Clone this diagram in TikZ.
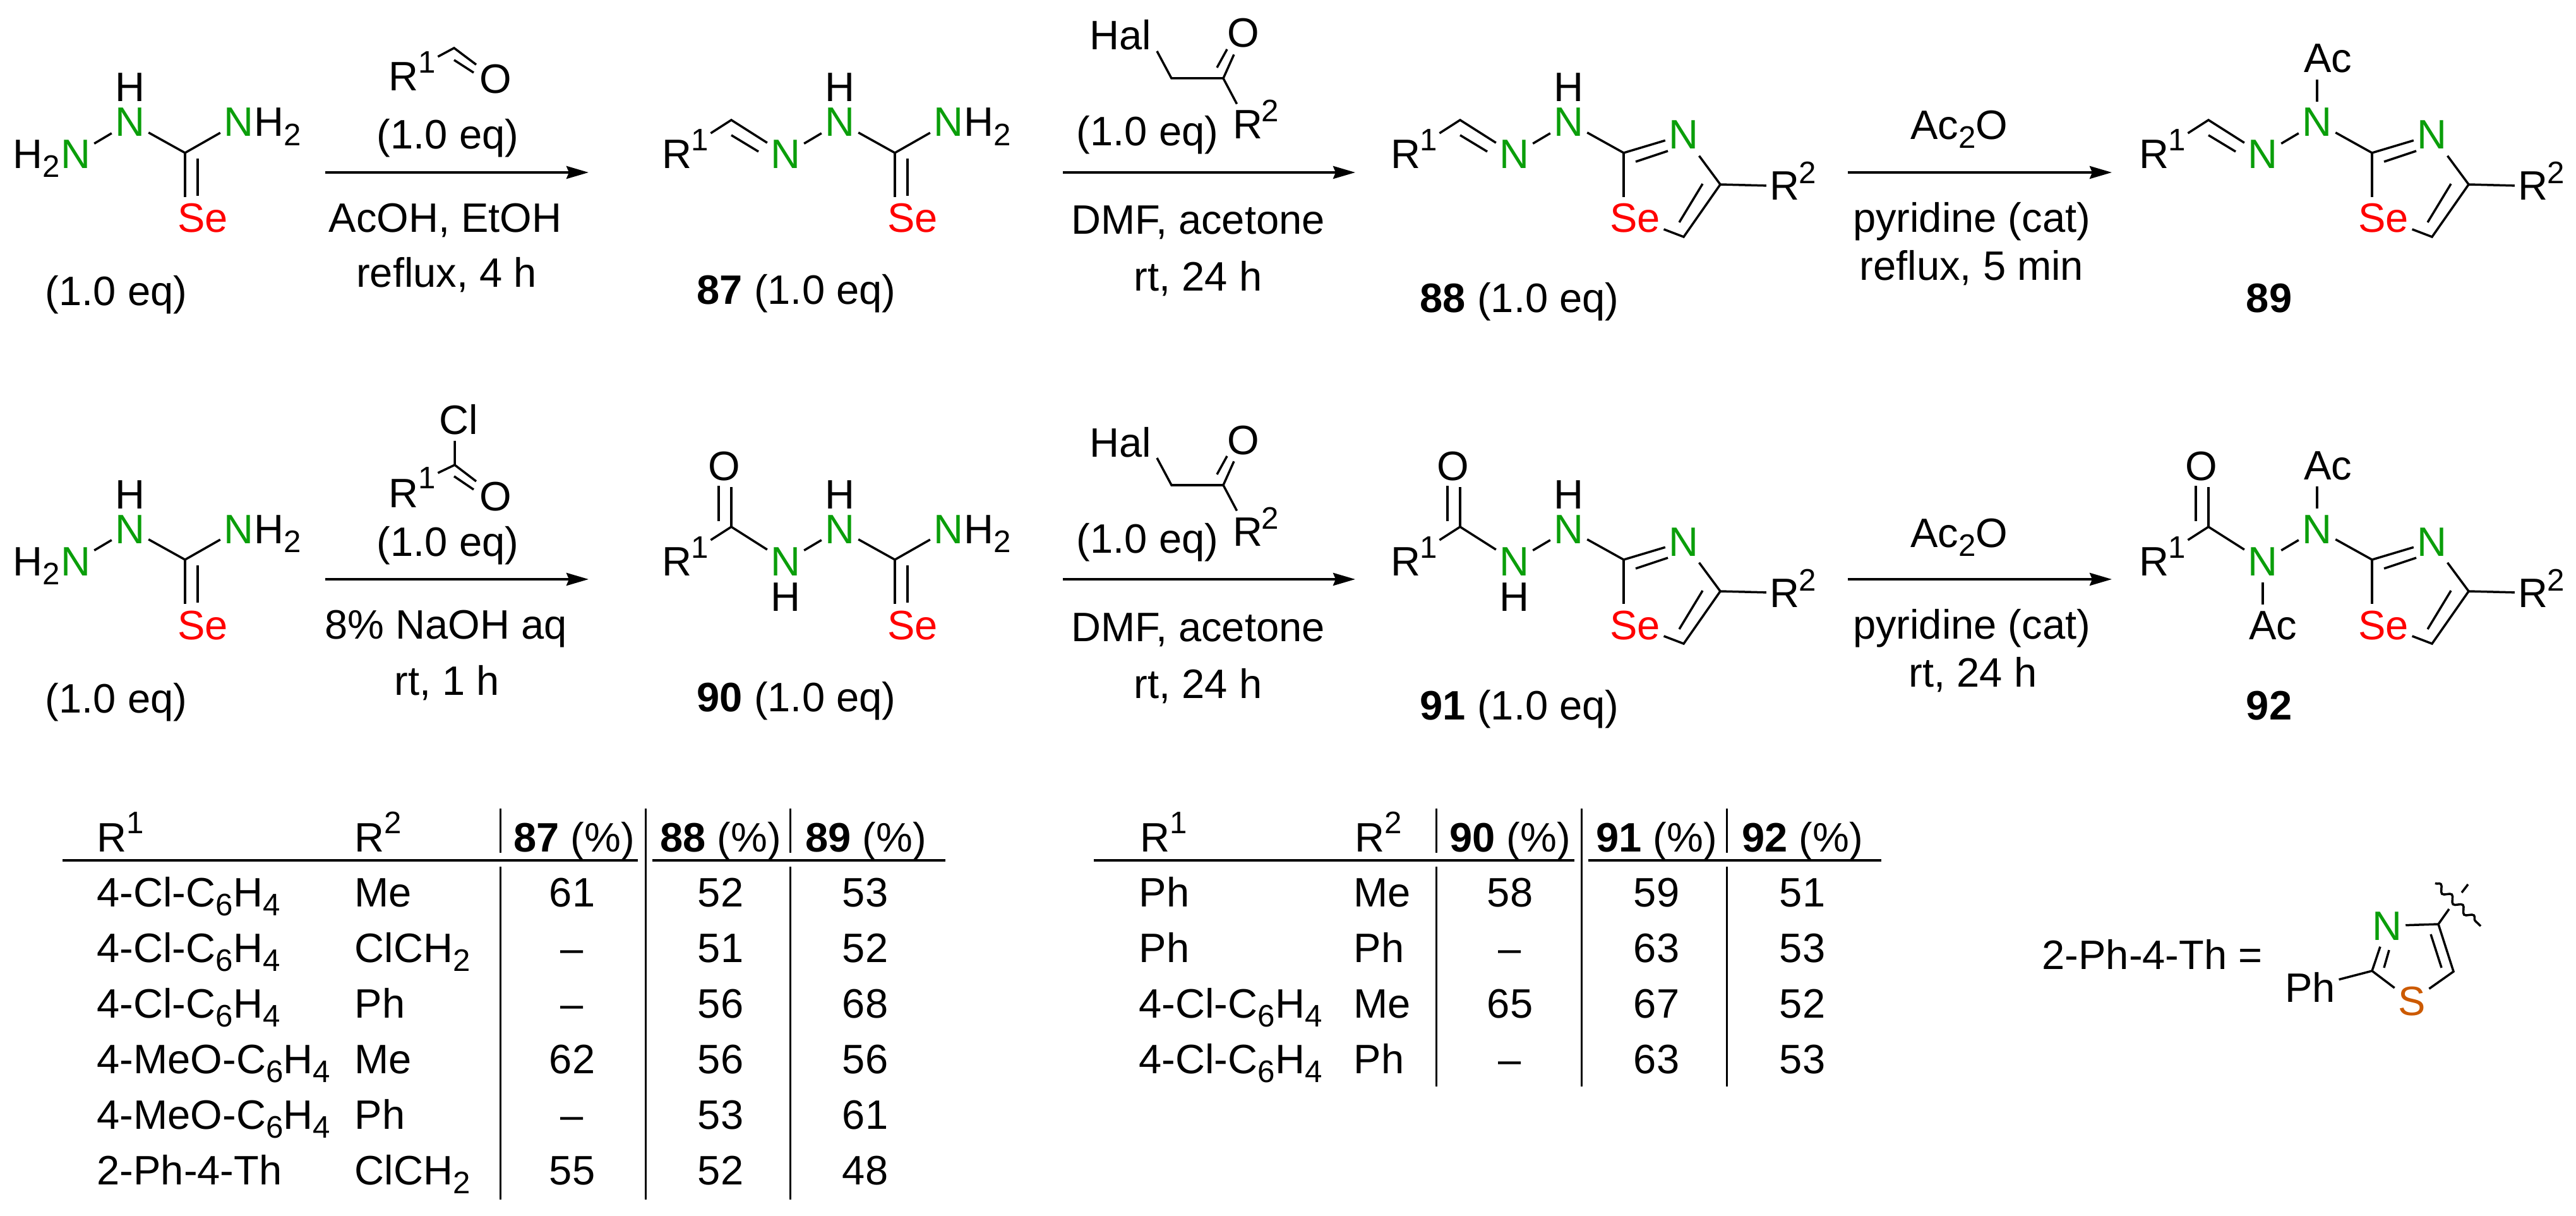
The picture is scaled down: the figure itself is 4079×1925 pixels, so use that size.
\documentclass[tikz,border=0pt]{standalone}
\usepackage{fontspec}
\setmainfont{Liberation Sans}
\usepackage{tikz}
\usetikzlibrary{arrows.meta,positioning,decorations.pathmorphing}
\definecolor{nitro}{RGB}{10,158,10}
\definecolor{selen}{RGB}{255,0,0}
\definecolor{sulf}{RGB}{204,90,0}
\newcommand{\bigfont}{\fontsize{18.5}{22}\selectfont}
\newcommand{\supr}[1]{\raisebox{0.28cm}{\fontsize{14}{14}\selectfont #1}}
\newcommand{\subr}[1]{\raisebox{-0.14cm}{\fontsize{14}{14}\selectfont #1}}
\newcommand{\clph}{4-Cl-C\subr{6}H\subr{4}}
\newcommand{\meoph}{4-MeO-C\subr{6}H\subr{4}}
\newcommand{\chcl}{ClCH\subr{2}}
\tikzstyle{arrow} = [line width=0.04cm,-{Stealth[length=0.35cm,width=0.2cm,inset=0.04cm]}]
\tikzstyle{bond} = [line width=0.035cm]
\tikzstyle{atom} = [font=\bigfont, anchor=base, inner xsep=0.05cm, inner ysep=0.1cm]
\tikzstyle{atomsup} = [font=\fontsize{14}{14}\selectfont, anchor=base, inner sep=0.03cm]
\tikzstyle{txt} = [font=\bigfont, anchor=base, inner sep=0pt]
\tikzstyle{cell} = [font=\bigfont, anchor=base west, inner sep=0pt]
\tikzstyle{tabrule} = [line width=0.04cm]
\tikzstyle{tabline} = [line width=0.03cm]
% left side of the products
\newcommand{\iminepart}{
  \node[txt] (r) at (1072,267) {R};
  \node[atomsup] (rs) at (1108,239) {1};
  \coordinate (v) at (1158,190);
  \coordinate (va) at (1158,214);
  \coordinate (vb) at (1201,240);
  \node[atom, text=nitro] (n) at (1244,267) {N};
  \node[atom, text=nitro] (nh) at (1330,216) {N};
  \draw[bond] (rs) -- (v) -- (n) -- (nh);
  \draw[bond] (va) -- (vb);
}
\newcommand{\acylpart}{
  \node[txt] (r) at (1072,267) {R};
  \node[atomsup] (rs) at (1108,239) {1};
  \coordinate (v) at (1158,190);
  \node[atom] (o) at (1147,116) {O};
  \coordinate (va) at (1138,125);
  \coordinate (vb) at (1138,181);
  \node[atom, text=nitro] (n) at (1244,267) {N};
  \node[atom, text=nitro] (nh) at (1330,216) {N};
  \draw[bond] (rs) -- (v) -- (n) -- (nh);
  \draw[bond] (v) -- (v |- o.south);
  \draw[bond] (va) -- (vb);
}
\newcommand{\hydrazine}{
  \node[atom, text=nitro] (n) at (1244,267) {N};
  \node[txt, anchor=base east] (hh) at (1220,267) {H\subr{2}};
  \node[atom, text=nitro] (nh) at (1330,216) {N};
  \draw[bond] (n) -- (nh);
}
% H or Ac on the nitrogens
\newcommand{\hup}{\node[txt] (hu) at (1330,161) {H};}
\newcommand{\hdown}{\node[txt] (hd) at (1244,323) {H};}
\newcommand{\acup}{
  \node[atom] (acu) at (1347,115) {Ac};
  \draw[bond] (nh) -- (nh |- acu.south);
}
\newcommand{\acdown}{
  \node[atom] (acd) at (1260,368) {Ac};
  \draw[bond] (n) -- (n |- acd.north);
}
% C(=Se)NH2
\newcommand{\selenopart}{
  \coordinate (c) at (1417,242);
  \node[atom, text=nitro] (nn) at (1502,216) {N};
  \node[txt, anchor=base west] (nnh) at (1526,216) {H\subr{2}};
  \node[atom, text=selen] (se) at (1445,368) {Se};
  \coordinate (ca) at (1437,251);
  \coordinate (cb) at (1437,310);
  \draw[bond] (nh) -- (c) -- (nn);
  \draw[bond] (c) -- (c |- se.north);
  \draw[bond] (ca) -- (cb);
}
% selenazole ring
\newcommand{\ringpart}{
  \coordinate (c) at (1417,242);
  \coordinate (cf) at (1570,292);
  \coordinate (cg) at (1512,375);
  \node[atom, text=nitro] (nr) at (1512,236) {N};
  \node[atom, text=selen] (se) at (1435,368) {Se};
  \node[atom] (rt) at (1672,317) {R};
  \node[atomsup] (rts) at (1708,291) {2};
  \coordinate (ca) at (1436,256);
  \coordinate (cb) at (1487,239);
  \coordinate (cc) at (1542,291);
  \coordinate (cd) at (1505,352);
  \draw[bond] (nh) -- (c) -- (nr) -- (cf) -- (cg) -- (se);
  \draw[bond] (c) -- (c |- se.north);
  \draw[bond] (rt) -- (cf);
  \draw[bond] (ca) -- (cb);
  \draw[bond] (cc) -- (cd);
}
% second step of both rows
\newcommand{\ketonestep}{
  \node[txt] (hal) at (1774,79) {Hal};
  \coordinate (halb) at (1832,81);
  \coordinate (ka) at (1855,124);
  \coordinate (kb) at (1937,124);
  \node[atom] (ko) at (1969,75) {O};
  \node[atom] (kr) at (1976,220) {R};
  \node[atomsup] (krs) at (2011,193) {2};
  \coordinate (kc) at (1927,107);
  \coordinate (kd) at (1943,78);
  \draw[bond] (halb) -- (ka) -- (kb) -- (ko);
  \draw[bond] (kb) -- (kr);
  \draw[bond] (kc) -- (kd);
  \node[txt] (keq) at (1817,231) {(1.0 eq)};
  \coordinate (as) at (1683,273);
  \coordinate (ae) at (2146,273);
  \draw[arrow] (as) -- (ae);
  \node[txt] (kdmf) at (1897,371) {DMF, acetone};
  \node[txt] (krt) at (1897,461) {rt, 24 h};
}
\begin{document}
\begin{tikzpicture}[x=0.01cm,y=-0.01cm]
\useasboundingbox (0,0) rectangle (4079,1925);
% First row
\begin{scope}[shift={(-1124,0)}, name prefix=sa-]
\hydrazine \hup \selenopart
\end{scope}
\node[txt] (eqa) at (184,484) {(1.0 eq)};
\node[txt] (ra) at (639,144) {R};
\node[atomsup] (rsa) at (676,116) {1};
\coordinate (alv) at (719,76);
\node[atom] (oa) at (785,148) {O};
\coordinate (ala) at (719,95);
\coordinate (alb) at (750,115);
\draw[bond] (rsa) -- (alv) -- (oa);
\draw[bond] (ala) -- (alb);
\node[txt] (eqb) at (709,236) {(1.0 eq)};
\coordinate (ars) at (515,273);
\coordinate (are) at (932,273);
\draw[arrow] (ars) -- (are);
\node[txt] (acoh) at (705,368) {AcOH, EtOH};
\node[txt] (refa) at (707,455) {reflux, 4 h};

\begin{scope}[name prefix=m87-]
\iminepart \hup \selenopart
\end{scope}
\node[txt, anchor=base west] (l87) at (1103,482) {\textbf{87} (1.0 eq)};

\begin{scope}[name prefix=ka-]
\ketonestep
\end{scope}

\begin{scope}[shift={(1154,0)}, name prefix=m88-]
\iminepart \hup \ringpart
\end{scope}
\node[txt, anchor=base west] (l88) at (2248,495) {\textbf{88} (1.0 eq)};

\node[txt] (aco) at (3102,221) {Ac\subr{2}O};
\coordinate (brs) at (2926,273);
\coordinate (bre) at (3344,273);
\draw[arrow] (brs) -- (bre);
\node[txt] (pyra) at (3122,368) {pyridine (cat)};
\node[txt] (refb) at (3122,444) {reflux, 5 min};

\begin{scope}[shift={(2339,0)}, name prefix=m89-]
\iminepart \acup \ringpart
\end{scope}
\node[txt] (l89) at (3593,495) {\textbf{89}};

% Second row
\begin{scope}[shift={(-1124,644)}, name prefix=sb-]
\hydrazine \hup \selenopart
\end{scope}
\node[txt] (eqc) at (184,1128) {(1.0 eq)};
\node[txt] (cl) at (726,687) {Cl};
\coordinate (clv) at (720,736);
\node[txt] (rb) at (639,803) {R};
\node[atomsup] (rsb) at (676,774) {1};
\node[atom] (ob) at (785,808) {O};
\coordinate (cla) at (719,754);
\coordinate (clb) at (750,775);
\coordinate (clt) at (720,698);
\draw[bond] (clt) -- (clv) -- (ob);
\draw[bond] (rsb) -- (clv);
\draw[bond] (cla) -- (clb);
\node[txt] (eqd) at (709,880) {(1.0 eq)};
\coordinate (crs) at (515,917);
\coordinate (cre) at (932,917);
\draw[arrow] (crs) -- (cre);
\node[txt] (naoh) at (706,1011) {8\% NaOH aq};
\node[txt] (rta) at (708,1100) {rt, 1 h};

\begin{scope}[shift={(0,644)}, name prefix=m90-]
\acylpart \hup \hdown \selenopart
\end{scope}
\node[txt, anchor=base west] (l90) at (1103,1126) {\textbf{90} (1.0 eq)};

\begin{scope}[shift={(0,644)}, name prefix=kb-]
\ketonestep
\end{scope}

\begin{scope}[shift={(1154,644)}, name prefix=m91-]
\acylpart \hup \hdown \ringpart
\end{scope}
\node[txt, anchor=base west] (l91) at (2248,1139) {\textbf{91} (1.0 eq)};

\node[txt] (acob) at (3102,866) {Ac\subr{2}O};
\coordinate (drs) at (2926,917);
\coordinate (dre) at (3344,917);
\draw[arrow] (drs) -- (dre);
\node[txt] (pyrb) at (3122,1011) {pyridine (cat)};
\node[txt] (rtb) at (3124,1087) {rt, 24 h};

\begin{scope}[shift={(2339,644)}, name prefix=m92-]
\acylpart \acup \acdown \ringpart
\end{scope}
\node[txt] (l92) at (3593,1139) {\textbf{92}};

% Left table
\node[cell] (ta-r) at (153,1348) {R\supr{1}};
\node[cell] (ta-s) at (561,1348) {R\supr{2}};
\node[txt] (ta-c) at (909,1348) {\textbf{87} (\%)};
\node[txt] (ta-d) at (1141,1348) {\textbf{88} (\%)};
\node[txt] (ta-e) at (1371,1348) {\textbf{89} (\%)};
\foreach \y/\a/\b/\c/\d/\e in {1435/\clph/Me/61/52/53, 1523/\clph/\chcl/–/51/52, 1611/\clph/Ph/–/56/68, 1699/\meoph/Me/62/56/56, 1787/\meoph/Ph/–/53/61, 1875/2-Ph-4-Th/\chcl/55/52/48}{
  \node[cell] (ta-\y-a) at (153,\y) {\a};
  \node[cell] (ta-\y-b) at (561,\y) {\b};
  \node[txt] (ta-\y-c) at (906,\y) {\c};
  \node[txt] (ta-\y-d) at (1141,\y) {\d};
  \node[txt] (ta-\y-e) at (1370,\y) {\e};
}
\draw[tabrule] (99,1362) -- (1010,1362);
\draw[tabrule] (1033,1362) -- (1497,1362);
\draw[tabline] (1022,1280) -- (1022,1899);
\foreach \x in {792,1251}{
  \draw[tabline] (\x,1280) -- (\x,1350);
  \draw[tabline] (\x,1372) -- (\x,1899);
}

% Right table
\node[cell] (tb-r) at (1805,1348) {R\supr{1}};
\node[cell] (tb-s) at (2145,1348) {R\supr{2}};
\node[txt] (tb-c) at (2391,1348) {\textbf{90} (\%)};
\node[txt] (tb-d) at (2623,1348) {\textbf{91} (\%)};
\node[txt] (tb-e) at (2854,1348) {\textbf{92} (\%)};
\foreach \y/\a/\b/\c/\d/\e in {1435/Ph/Me/58/59/51, 1523/Ph/Ph/–/63/53, 1611/\clph/Me/65/67/52, 1699/\clph/Ph/–/63/53}{
  \node[cell] (tb-\y-a) at (1803,\y) {\a};
  \node[cell] (tb-\y-b) at (2143,\y) {\b};
  \node[txt] (tb-\y-c) at (2391,\y) {\c};
  \node[txt] (tb-\y-d) at (2623,\y) {\d};
  \node[txt] (tb-\y-e) at (2854,\y) {\e};
}
\draw[tabrule] (1732,1362) -- (2493,1362);
\draw[tabrule] (2515,1362) -- (2979,1362);
\draw[tabline] (2504,1280) -- (2504,1720);
\foreach \x in {2274,2734}{
  \draw[tabline] (\x,1280) -- (\x,1350);
  \draw[tabline] (\x,1372) -- (\x,1720);
}

% Thiazole legend
\node[cell] (thlab) at (3233,1534) {2-Ph-4-Th =};
\node[atom, text=nitro] (thn) at (3780,1488) {N};
\node[atom, text=sulf] (ths) at (3819,1607) {S};
\node[atom] (thph) at (3658,1586) {Ph};
\coordinate (tha) at (3861,1463);
\coordinate (thb) at (3885,1538);
\coordinate (thc) at (3756,1537);
\coordinate (thd) at (3849,1479);
\coordinate (the) at (3866,1532);
\coordinate (thf) at (3775,1532);
\coordinate (thg) at (3783,1504);
\coordinate (thh) at (3878,1439);
\coordinate (thi) at (3908,1400);
\coordinate (thj) at (3898,1413);
\coordinate (thw) at (3856,1398);
\coordinate (thx) at (3928,1466);
\draw[bond] (thn) -- (tha) -- (thb) -- (ths) -- (thc) -- (thn);
\draw[bond] (thc) -- (thph);
\draw[bond] (tha) -- (thh);
\draw[bond] (thi) -- (thj);
\draw[bond] (thd) -- (the);
\draw[bond] (thf) -- (thg);
\draw[bond, decorate, decoration={snake, segment length=0.24cm, amplitude=0.05cm}] (thw) -- (thx);
\end{tikzpicture}
\end{document}
